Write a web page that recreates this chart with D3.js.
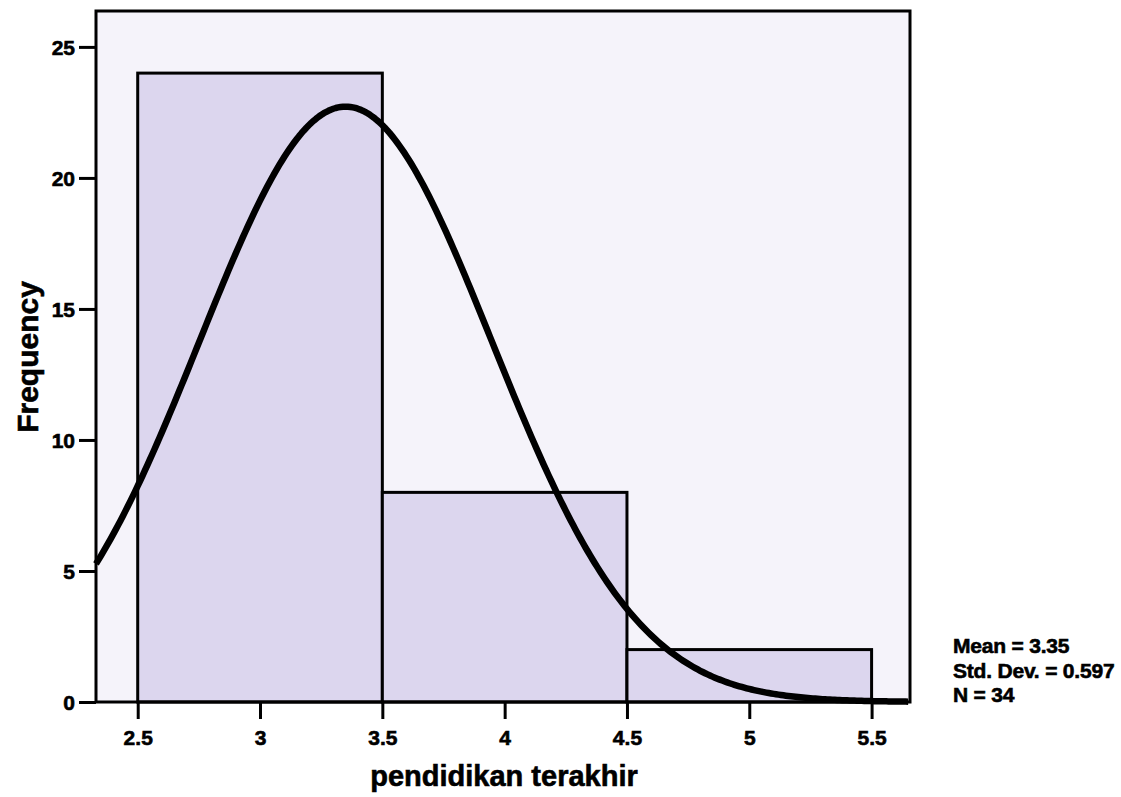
<!DOCTYPE html>
<html><head><meta charset="utf-8">
<script src="https://cdn.jsdelivr.net/npm/d3@7"></script>
<style>body{margin:0;background:#fff}svg{display:block}text{font-family:"Liberation Sans",Arial,sans-serif;font-weight:bold;fill:#000;stroke:#000;stroke-width:0.6px}</style>
</head><body>
<script>
const binStarts = [2.5, 3.5, 4.5];
const binEnds = [3.5, 4.5, 5.5];
const frequencies = [24, 8, 2];
const xTicks = [2.5, 3, 3.5, 4, 4.5, 5, 5.5];
const xTickLabels = ["2.5", "3", "3.5", "4", "4.5", "5", "5.5"];
const yTicks = [0, 5, 10, 15, 20, 25];
const statLabels = ["Mean = 3.35", "Std. Dev. = 0.597", "N = 34"];
const meanValue = 3.35, sdValue = 0.597, nValue = 34, binWidth = 1;

const W = 1121, H = 797;
const L = 96, R = 910, T = 11, B = 702;
const svg = d3.select("body").append("svg").attr("width", W).attr("height", H);
const x = d3.scaleLinear().domain([2.3295, 5.657]).range([L, R]);
const y = d3.scaleLinear().domain([0, 26.37]).range([B, T]);

svg.append("rect").attr("x", L).attr("y", T).attr("width", R - L).attr("height", B - T).attr("fill", "#f5f3fa");

const bars = binStarts.map((s, i) => ({s, e: binEnds[i], f: frequencies[i]}));
svg.selectAll("rect.bar").data(bars).enter().append("rect").attr("class", "bar")
  .attr("x", d => x(d.s)).attr("y", d => y(d.f))
  .attr("width", d => x(d.e) - x(d.s)).attr("height", d => y(0) - y(d.f))
  .attr("fill", "#dcd6ee").attr("stroke", "#000").attr("stroke-width", 3);

// fitted normal curve defined by the stated mean / std. dev. / N
const xs = d3.range(x.domain()[0], x.domain()[1] + 0.001, 0.01);
const dens = v => nValue * binWidth / (sdValue * Math.sqrt(2 * Math.PI)) * Math.exp(-0.5 * Math.pow((v - meanValue) / sdValue, 2));
svg.append("path").datum(xs)
  .attr("d", d3.line().x(d => x(d)).y(d => y(dens(d))))
  .attr("fill", "none").attr("stroke", "#000").attr("stroke-width", 6.5).attr("stroke-linejoin", "round");

svg.append("rect").attr("x", L).attr("y", T).attr("width", R - L).attr("height", B - T)
  .attr("fill", "none").attr("stroke", "#000").attr("stroke-width", 3);

const xAxis = d3.axisBottom(x).tickValues(xTicks).tickFormat((d, i) => xTickLabels[i]).tickSize(17).tickPadding(6);
const gx = svg.append("g").attr("transform", `translate(0,${B})`).call(xAxis);
gx.select(".domain").remove();
gx.selectAll(".tick line").attr("stroke", "#000").attr("stroke-width", 3);
gx.selectAll(".tick text").attr("font-size", 21).attr("dy", "0.95em");

const yAxis = d3.axisLeft(y).tickValues(yTicks).tickSize(17).tickPadding(4);
const gy = svg.append("g").attr("transform", `translate(${L},0)`).call(yAxis);
gy.select(".domain").remove();
gy.selectAll(".tick line").attr("stroke", "#000").attr("stroke-width", 3);
gy.selectAll(".tick text").attr("font-size", 21).attr("dy", "0.36em");

svg.append("text").attr("x", 504).attr("y", 786).attr("text-anchor", "middle")
  .attr("font-size", 29).text("pendidikan terakhir");
svg.append("text").attr("transform", "translate(38,357) rotate(-90)").attr("text-anchor", "middle")
  .attr("font-size", 30).text("Frequency");

svg.selectAll("text.stat").data(statLabels).enter().append("text").attr("class", "stat")
  .attr("x", 953).attr("y", (d, i) => 653 + i * 24.5).attr("font-size", 21).attr("letter-spacing", -0.2)
  .text(d => d);
</script>
</body></html>
